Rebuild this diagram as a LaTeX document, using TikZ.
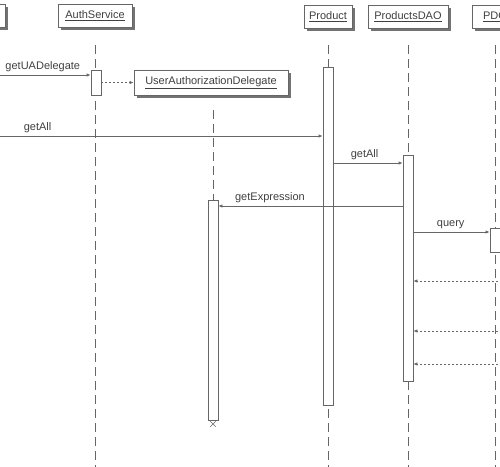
\documentclass[tikz,border=0pt]{standalone}
\usepackage{fontspec}
\setmainfont{Liberation Sans}
\usetikzlibrary{arrows.meta, shadows, shapes.misc}
\tikzset{
    obj/.style={rectangle,draw=black!60,fill=white,text=black!75,minimum height=23pt,inner sep=2pt,line width=0.8pt,
        drop shadow={shadow xshift=2.5pt,shadow yshift=-2.5pt,fill=black!55,opacity=1}},
    bar/.style={rectangle,draw=black!60,fill=white,minimum width=10pt,inner sep=0pt,line width=0.8pt},
    life/.style={draw=black!60,line width=0.8pt,dash pattern=on 9pt off 5pt},
    lbl/.style={fill=none,draw=none,text=black!75,inner sep=2.5pt,above},
    msg/.style={draw=black!60,line width=0.8pt,-{Latex[length=4pt,width=3.5pt]}},
    ret/.style={msg,dash pattern=on 2pt off 2pt},
}
\begin{document}
\begin{tikzpicture}[x=1pt,y=-1pt,font=\fontsize{11}{13}\selectfont]
\useasboundingbox (0,0) rectangle (500,466);
\clip (0,0) rectangle (500,466);
\coordinate (top) at (0,45);
\coordinate (bot) at (0,470);
% participants
\node[obj,minimum width=70pt] (client) at (-30,16) {};
\node[obj,minimum width=74pt] (auth) at (95,15.5) {\underline{AuthService}};
\node[obj,minimum width=48pt] (product) at (328,16.5) {\underline{Product}};
\node[obj,minimum width=80pt] (dao) at (408,16.5) {\underline{ProductsDAO}};
\node[obj,minimum width=46pt] (pdo) at (495,16.5) {\underline{PDO}};
\node[obj,minimum width=154pt,minimum height=25pt] (uad) at (211,82.5) {\underline{UserAuthorizationDelegate}};
% lifelines
\draw[life] (auth.south |- top) -- (auth.south |- bot);
\draw[life] (product.south |- top) -- (product.south |- bot);
\draw[life] (dao.south |- top) -- (dao.south |- bot);
\draw[life] (pdo.south |- top) -- (pdo.south |- bot);
\draw[life] (213,110) -- (213,200);
% activations
\node[bar,minimum height=25pt] (authbar) at (96,82.5) {};
\node[bar,minimum height=220pt] (uadbar) at (213,310) {};
\node[bar,minimum height=338pt] (prodbar) at (328,236) {};
\node[bar,minimum height=226pt] (daobar) at (408,268) {};
\node[bar,minimum height=24pt] (pdobar) at (495,240) {};
\node[draw=black!60,cross out,minimum size=5pt,inner sep=0pt] (uadend) at (213,424) {};
% messages
\coordinate (in1) at (-5,75);
\coordinate (in2) at (-5,136);
\coordinate (m3) at (0,163);
\coordinate (m4) at (0,206);
\coordinate (m5) at (0,232);
\coordinate (r1) at (510,281);
\coordinate (r2) at (510,331);
\coordinate (r3) at (510,364);
\path
(in1) edge[msg] node[lbl,pos=0.5] {getUADelegate} (authbar.west |- in1)
(authbar.east |- uad) edge[ret] (uad.west)
(in2) edge[msg] node[lbl,pos=0.13] {getAll} (prodbar.west |- in2)
(prodbar.east |- m3) edge[msg] node[lbl,pos=0.45] {getAll} (daobar.west |- m3)
(daobar.west |- m4) edge[msg] node[lbl,pos=0.72] {getExpression} (uadbar.east |- m4)
(daobar.east |- m5) edge[msg] node[lbl,pos=0.49] {query} (pdobar.west |- m5)
(r1) edge[ret] (daobar.east |- r1)
(r2) edge[ret] (daobar.east |- r2)
(r3) edge[ret] (daobar.east |- r3)
;
\end{tikzpicture}
\end{document}
